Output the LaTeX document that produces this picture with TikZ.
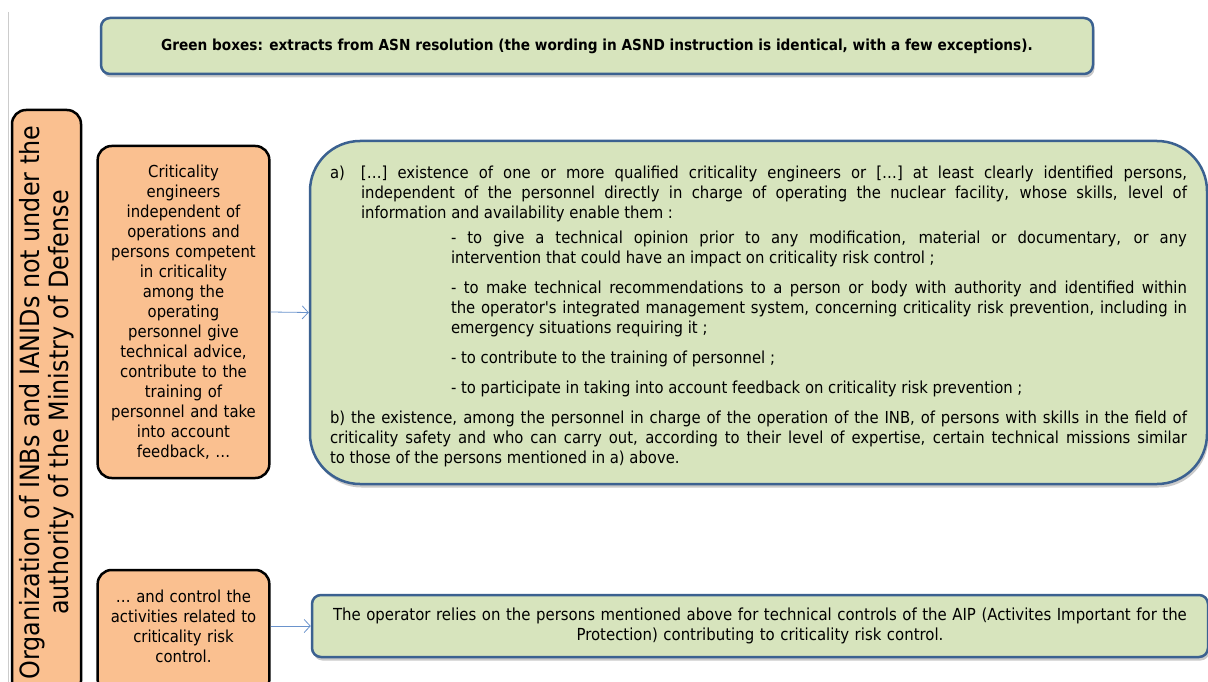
\documentclass[tikz,border=0pt]{standalone}
\usepackage{fontspec}
\setmainfont{DejaVu Sans Condensed}
\usepackage{tikz}
\usetikzlibrary{positioning, shadows, arrows.meta}
\definecolor{boxgreen}{HTML}{D7E4BD}
\definecolor{boxblue}{HTML}{3B6190}
\definecolor{boxorange}{HTML}{FAC090}
\definecolor{linkblue}{HTML}{6A93CC}
\tikzset{greenbox/.style={draw=boxblue, fill=boxgreen, line width=2.5pt, rounded corners=9pt,
    drop shadow={shadow xshift=1.5pt, shadow yshift=-3.5pt, opacity=0.35, fill=black!60}},
  orangebox/.style={draw=black, fill=boxorange, line width=2.5pt, rounded corners=14pt, align=center},
  link/.style={draw=linkblue, line width=0.8pt, -{Straight Barb[length=6pt, width=13pt]}}}

\begin{document}
\begin{tikzpicture}[x=1pt, y=-1pt]
    \useasboundingbox (0,0) rectangle (1208,682);
    \draw[black!20, line width=1pt] (8,12) -- (8,682);

    % legend on top
    \node[greenbox, minimum width=992, minimum height=56, font=\fontsize{15.2}{18}\selectfont\bfseries] (legend) at (597,46)
      {Green boxes: extracts from ASN resolution (the wording in ASND instruction is identical, with a few exceptions).};

    % vertical title
    \node[orangebox, rotate=90, minimum width=585, minimum height=69, inner sep=2pt, font=\fontsize{26.5}{29}\selectfont] (org) at (46.5,402.5)
      {Organization of INBs and IANIDs not under the\\ authority of the Ministry of Defense};

    % left column
    \node[orangebox, minimum width=171, minimum height=332, text width=165pt, font=\fontsize{16.5}{20}\selectfont] (crit) at (183.5,312)
      {Criticality\\ engineers\\ independent of\\ operations and\\ persons competent\\ in criticality\\ among the\\ operating\\ personnel give\\ technical advice,\\ contribute to the\\ training of\\ personnel and take\\ into account\\ feedback, \dots};
    \node[orangebox, minimum width=171, minimum height=124, text width=165pt, font=\fontsize{16.5}{20}\selectfont] (ctrl) at (183.5,632)
      {\dots{} and control the\\ activities related to\\ criticality risk\\ control.\rule[-12pt]{0pt}{12pt}};

    % extracts
    \node[greenbox, rounded corners=50pt, minimum width=897, minimum height=343, text width=857pt, align=justify, font=\fontsize{16.5}{20}\selectfont] (rule) at (758.5,312.5)
      {\hangindent=31pt\hangafter=1\noindent\makebox[31pt][l]{\rule{0pt}{21pt}a)}[\dots] existence of one or more qualified criticality engineers or [\dots] at least clearly identified persons,\linebreak
       independent of the personnel directly in charge of operating the nuclear facility, whose skills, level of\linebreak
       information and availability enable them :\par
       \vspace{5pt}
       {\leftskip=121pt\noindent - to give a technical opinion prior to any modification, material or documentary, or any\linebreak
       intervention that could have an impact on criticality risk control ;\par
       \vspace{10pt}\noindent - to make technical recommendations to a person or body with authority and identified within\linebreak
       the operator\textquotesingle s integrated management system, concerning criticality risk prevention, including in\linebreak
       emergency situations requiring it ;\par
       \vspace{10pt}\noindent - to contribute to the training of personnel ;\par
       \vspace{10pt}\noindent - to participate in taking into account feedback on criticality risk prevention ;\par}
       \vspace{10pt}\noindent b) the existence, among the personnel in charge of the operation of the INB, of persons with skills in the field of\linebreak
       criticality safety and who can carry out, according to their level of expertise, certain technical missions similar\linebreak
       to those of the persons mentioned in a) above.\par};
    \node[greenbox, minimum width=896, minimum height=62, text width=880pt, align=center, font=\fontsize{16.6}{20}\selectfont] (op) at (760,626)
      {The operator relies on the persons mentioned above for technical controls of the AIP (Activites Important for the\\ Protection) contributing to criticality risk control.};

    \draw[link] (crit.east) -- (rule.west);
    \draw[link] (ctrl.east |- op.west) -- (op.west);
\end{tikzpicture}
\end{document}
